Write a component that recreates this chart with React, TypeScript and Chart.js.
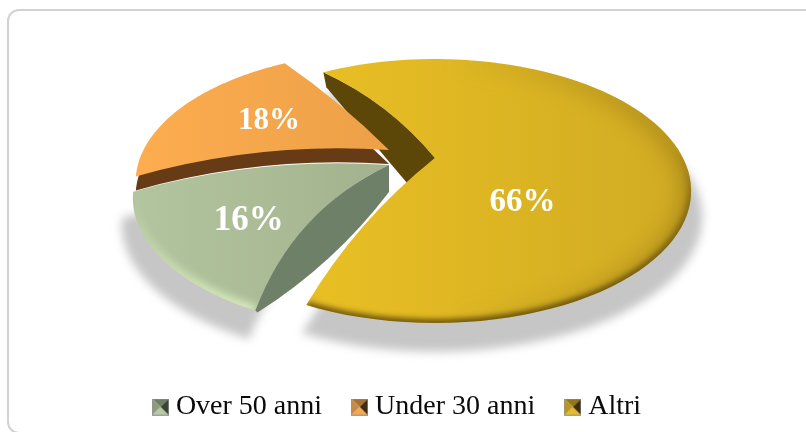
import React, { useEffect, useRef } from "react";
import { Chart, registerables } from "chart.js";

Chart.register(...registerables);

const categories = ["Over 50 anni", "Under 30 anni", "Altri"];
const shares = [16, 18, 66];

// Style: projection of the pie disc, and the placement of each exploded slice
const ROTATION = 204.6;
const PERSPECTIVE = 0.25;
const RADIUS_X = 248;
const RADIUS_Y = 123.75;
const apexes = [
  { x: 389, y: 165 },
  { x: 389, y: 150 },
  { x: 435, y: 158 },
];
const rimScale = [1, 0.99, 1];
const angleNudges = [
  [0, -4],
  [-4, 2],
  [0, -1],
];
const edgeBulges = [
  [20, 11],
  [11, 3],
  [8, 9],
];
const faceStops = [
  ["#b2c59e", "#a3b28e"],
  ["#fdad4f", "#eda048"],
  ["#e9bf24", "#d0ab23"],
];
const labelSizes = [35, 31, 33];
const labelRadius = [0.65, 0.57, 0.46];
const labelTurn = [0, 2, 50];
const legendFaces = [
  ["#6f7f66", "#3b4232", "#b8c9a5", "#8d9c7b"],
  ["#a96f33", "#3f2a12", "#f5a850", "#c98a43"],
  ["#94761a", "#3e300a", "#e3bb2a", "#b8961f"],
];
const SERIF = '"Liberation Serif", serif';

type P = { x: number; y: number };

function project(theta: number, r: number, apex: P): P {
  const u = r * Math.sin(theta);
  const v = -r * Math.cos(theta);
  const w = 1 - PERSPECTIVE * v;
  return { x: apex.x + (RADIUS_X * u) / w, y: apex.y + (RADIUS_Y * v) / w };
}

function bulgeControl(a: P, b: P, bulge: number): P {
  const dx = b.x - a.x;
  const dy = b.y - a.y;
  const len = Math.hypot(dx, dy) || 1;
  return {
    x: (a.x + b.x) / 2 + (-dy / len) * bulge * 2,
    y: (a.y + b.y) / 2 + (dx / len) * bulge * 2,
  };
}

function traceRim(ctx: CanvasRenderingContext2D, t0: number, t1: number, apex: P, r: number) {
  const steps = 90;
  for (let i = 0; i <= steps; i++) {
    const p = project(t0 + ((t1 - t0) * i) / steps, r, apex);
    ctx.lineTo(p.x, p.y);
  }
}

function traceSlice(ctx: CanvasRenderingContext2D, t0: number, t1: number, apex: P, b0: number, b1: number, r: number) {
  const s = project(t0, r, apex);
  const e = project(t1, r, apex);
  const c0 = bulgeControl(apex, s, b0);
  const c1 = bulgeControl(apex, e, b1);
  ctx.beginPath();
  ctx.moveTo(apex.x, apex.y);
  ctx.quadraticCurveTo(c0.x, c0.y, s.x, s.y);
  traceRim(ctx, t0, t1, apex, r);
  ctx.quadraticCurveTo(c1.x, c1.y, apex.x, apex.y);
  ctx.closePath();
}

function rimPath(ctx: CanvasRenderingContext2D, t0: number, t1: number, apex: P) {
  const s = project(t0, 1, apex);
  ctx.beginPath();
  ctx.moveTo(s.x, s.y);
  traceRim(ctx, t0, t1, apex, 1);
}

const piePlugin = {
  id: "perspectivePie",
  beforeDatasetDraw(chart: any) {
    const ctx: CanvasRenderingContext2D = chart.ctx;
    const arcs = chart.getDatasetMeta(0).data;
    const angle = (i: number) => {
      const a = arcs[i];
      return [
        a.startAngle + Math.PI / 2 + (angleNudges[i][0] * Math.PI) / 180,
        a.endAngle + Math.PI / 2 + (angleNudges[i][1] * Math.PI) / 180,
      ];
    };
    const slice = (i: number, apex: P = apexes[i]) => {
      const [t0, t1] = angle(i);
      traceSlice(ctx, t0, t1, apex, edgeBulges[i][0], edgeBulges[i][1], rimScale[i]);
    };

    // cast shadow
    ctx.save();
    ctx.filter = "blur(5px)";
    ctx.fillStyle = "#c6c6c6";
    ctx.translate(412, 216);
    ctx.scale(1.04, 1.02);
    ctx.translate(-412, -190);
    slice(0);
    ctx.fill();
    slice(2);
    ctx.fill();
    ctx.restore();

    // inner wall of the big slice
    {
      const [t0] = angle(2);
      const apex = apexes[2];
      const rim = project(t0, 1, apex);
      const c = bulgeControl(apex, rim, edgeBulges[2][0]);
      ctx.beginPath();
      ctx.moveTo(rim.x, rim.y);
      ctx.quadraticCurveTo(c.x, c.y, apex.x, apex.y);
      ctx.lineTo(apex.x - 28, apex.y + 25);
      ctx.lineTo(rim.x + 3, rim.y + 15);
      ctx.closePath();
      ctx.fillStyle = "#5c4608";
      ctx.fill();
    }

    const face = (i: number, x0: number, x1: number) => {
      const g = ctx.createLinearGradient(x0, 0, x1, 0);
      g.addColorStop(0, faceStops[i][0]);
      g.addColorStop(1, faceStops[i][1]);
      slice(i);
      ctx.fillStyle = g;
      ctx.fill();
    };

    // big slice with its bevelled rim
    face(2, 305, 691);
    {
      const [t0, t1] = angle(2);
      const apex = apexes[2];
      ctx.save();
      slice(2);
      ctx.clip();
      ctx.filter = "blur(10px)";
      const soft = ctx.createLinearGradient(450, 0, 680, 0);
      soft.addColorStop(0, "rgba(130,100,15,0)");
      soft.addColorStop(1, "rgba(130,100,15,0.42)");
      ctx.strokeStyle = soft;
      ctx.lineWidth = 22;
      rimPath(ctx, t0, t1, apex);
      ctx.stroke();
      ctx.filter = "blur(3px)";
      const g = ctx.createLinearGradient(0, 150, 0, 322);
      g.addColorStop(0, "rgba(70,52,6,0)");
      g.addColorStop(0.3, "rgba(70,52,6,0.55)");
      g.addColorStop(1, "rgba(70,52,6,1)");
      ctx.strokeStyle = g;
      ctx.lineWidth = 6;
      rimPath(ctx, t0, t1, apex);
      ctx.stroke();
      ctx.restore();
    }

    // green slice, light rim and its wall
    face(0, 140, 385);
    {
      const [t0, t1] = angle(0);
      const apex = apexes[0];
      ctx.save();
      slice(0);
      ctx.clip();
      ctx.filter = "blur(4px)";
      const light = ctx.createLinearGradient(0, 200, 0, 310);
      light.addColorStop(0, "rgba(222,240,195,0)");
      light.addColorStop(1, "rgba(222,240,195,1)");
      ctx.strokeStyle = light;
      ctx.lineWidth = 10;
      rimPath(ctx, t0, t1, apex);
      ctx.stroke();
      ctx.restore();

      const rim = project(t0, 1, apex);
      const c = bulgeControl(apex, rim, edgeBulges[0][0]);
      const low = { x: apex.x, y: apex.y + 27 };
      const lowRim = { x: rim.x + 2, y: rim.y + 2 };
      const c2 = bulgeControl(low, lowRim, -8);
      ctx.beginPath();
      ctx.moveTo(apex.x, apex.y);
      ctx.quadraticCurveTo(c.x, c.y, rim.x, rim.y);
      ctx.lineTo(lowRim.x, lowRim.y);
      ctx.quadraticCurveTo(c2.x, c2.y, low.x, low.y);
      ctx.closePath();
      ctx.fillStyle = "#6f8068";
      ctx.fill();
    }

    // orange slice, extruded band below it
    slice(1, { x: apexes[1].x, y: apexes[1].y + 14 });
    ctx.fillStyle = "#663b15";
    ctx.fill();
    face(1, 136, 389);

    // percentage labels
    ctx.fillStyle = "#ffffff";
    ctx.textAlign = "center";
    ctx.textBaseline = "middle";
    shares.forEach((value, i) => {
      const [t0, t1] = angle(i);
      const mid = (t0 + t1) / 2 + (labelTurn[i] * Math.PI) / 180;
      const p = project(mid, labelRadius[i], apexes[i]);
      ctx.font = `bold ${labelSizes[i]}px ${SERIF}`;
      ctx.fillText(`${value}%`, p.x, p.y);
    });
    return false;
  },
};

function legendMarker(faces: string[]) {
  const c = document.createElement("canvas");
  c.width = 17;
  c.height = 17;
  const g = c.getContext("2d")!;
  const m = 8.5;
  const tri = (ax: number, ay: number, bx: number, by: number, col: string) => {
    g.beginPath();
    g.moveTo(ax, ay);
    g.lineTo(bx, by);
    g.lineTo(m, m);
    g.closePath();
    g.fillStyle = col;
    g.fill();
  };
  tri(0, 0, 17, 0, faces[0]);
  tri(17, 0, 17, 17, faces[1]);
  tri(17, 17, 0, 17, faces[2]);
  tri(0, 17, 0, 0, faces[3]);
  g.strokeStyle = "rgba(150,150,150,0.7)";
  g.strokeRect(0.5, 0.5, 16, 16);
  return c;
}

export default function App() {
  const ref = useRef<HTMLCanvasElement>(null);
  useEffect(() => {
    const markers = legendFaces.map(legendMarker);
    const chart = new Chart(ref.current!, {
      type: "doughnut",
      data: {
        labels: categories,
        datasets: [
          {
            data: shares,
            backgroundColor: faceStops.map((s) => s[0]),
            borderWidth: 0,
          },
        ],
      },
      options: {
        responsive: false,
        animation: false,
        cutout: 0,
        rotation: ROTATION,
        layout: { padding: { bottom: 1, right: 6 } },
        plugins: {
          tooltip: { enabled: false },
          legend: {
            position: "bottom",
            labels: {
              usePointStyle: true,
              boxWidth: 3,
              padding: 36,
              color: "#0a0a0a",
              font: { family: SERIF, size: 28 },
              generateLabels: (c: any) =>
                c.data.labels.map((text: string, i: number) => ({
                  text,
                  pointStyle: markers[i],
                  fontColor: "#0a0a0a",
                  hidden: false,
                  index: i,
                })),
            },
          },
        },
      },
      plugins: [piePlugin],
    } as any);
    return () => chart.destroy();
  }, []);
  return (
    <div style={{ position: "fixed", left: 0, top: 0, width: 806, height: 432, overflow: "hidden", background: "#fff" }}>
      <div
        style={{
          position: "absolute",
          left: 7,
          top: 9,
          width: 900,
          height: 425,
          border: "2px solid #d2d2d2",
          borderRadius: 12,
          boxSizing: "border-box",
        }}
      />
      <canvas ref={ref} width={806} height={432} style={{ position: "absolute", left: 0, top: 0, display: "block" }} />
    </div>
  );
}
